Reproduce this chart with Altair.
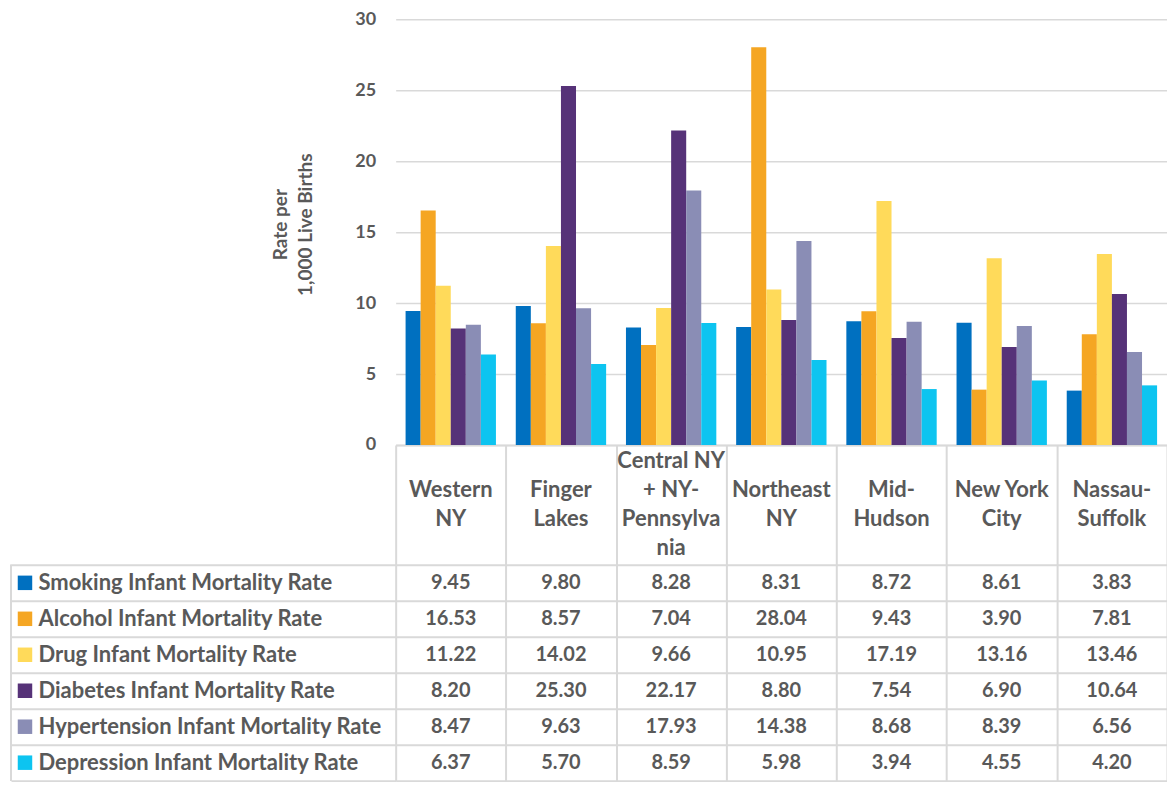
import altair as alt
import pandas as pd

regions = ["Western NY", "Finger Lakes", "Central NY + NY-Pennsylvania", "Northeast NY",
           "Mid-Hudson", "New York City", "Nassau-Suffolk"]
region_labels = ["Western\nNY", "Finger\nLakes", "Central NY\n+ NY-\nPennsylva\nnia", "Northeast\nNY",
                 "Mid-\nHudson", "New York\nCity", "Nassau-\nSuffolk"]
series = ["Smoking Infant Mortality Rate", "Alcohol Infant Mortality Rate", "Drug Infant Mortality Rate",
          "Diabetes Infant Mortality Rate", "Hypertension Infant Mortality Rate", "Depression Infant Mortality Rate"]
colors = ["#0070C0", "#F5A623", "#FFDA5A", "#563278", "#8A8DB5", "#0DC4F0"]

smoking = [9.45, 9.80, 8.28, 8.31, 8.72, 8.61, 3.83]
alcohol = [16.53, 8.57, 7.04, 28.04, 9.43, 3.90, 7.81]
drug = [11.22, 14.02, 9.66, 10.95, 17.19, 13.16, 13.46]
diabetes = [8.20, 25.30, 22.17, 8.80, 7.54, 6.90, 10.64]
hypertension = [8.47, 9.63, 17.93, 14.38, 8.68, 8.39, 6.56]
depression = [6.37, 5.70, 8.59, 5.98, 3.94, 4.55, 4.20]
y_ticks = [0, 5, 10, 15, 20, 25, 30]

values = [smoking, alcohol, drug, diabetes, hypertension, depression]
rows = []
for s, vals in zip(series, values):
    for r, v in zip(regions, vals):
        rows.append({"region": r, "series": s, "value": v})
df = pd.DataFrame(rows)
hdr_df = pd.DataFrame({"region": regions, "label": region_labels})
sq_df = pd.DataFrame({"series": series})

FONT = "Lato"
TXT = "#595959"
GRID = "#D9D9D9"
W = 772
H_BAR = 426
H_HDR = 120
LINE_H = 29
ROW = 36
H_BODY = ROW * len(series)
LEFT = 385

color_scale = alt.Scale(domain=series, range=colors)

bars = alt.Chart(df).mark_bar().encode(
    x=alt.X("region:N", sort=None,
            scale=alt.Scale(domain=regions, paddingInner=0.18, paddingOuter=0.09),
            axis=alt.Axis(title=None, labels=False, ticks=False, domain=True,
                          domainColor=GRID, domainWidth=2, grid=False)),
    xOffset=alt.XOffset("series:N", sort=None, scale=alt.Scale(domain=series)),
    y=alt.Y("value:Q", scale=alt.Scale(domain=[0, 30], nice=False),
            axis=alt.Axis(values=y_ticks, title=["Rate per", "1,000 Live Births"],
                          domain=False, ticks=False, labelPadding=20,
                          labelFont=FONT, labelFontSize=18, labelFontWeight="bold", labelColor=TXT,
                          titleFont=FONT, titleFontSize=19, titleFontWeight="bold", titleColor=TXT,
                          titlePadding=39, titleLineHeight=25, titleY=H_BAR / 2 - 8,
                          grid=True, gridColor=GRID, gridWidth=1.5)),
    color=alt.Color("series:N", scale=color_scale, legend=None),
).properties(width=W, height=H_BAR)

half_lines = H_HDR / 2 / LINE_H
header = alt.Chart(hdr_df).transform_calculate(
    pos="(length(split(datum.label, '\\n')) - 1) / 2"
).mark_text(
    font=FONT, fontSize=22, fontWeight="bold", color=TXT, lineBreak="\n",
    lineHeight=LINE_H, baseline="middle", align="center"
).encode(
    x=alt.X("region:N", sort=None, scale=alt.Scale(domain=regions),
            axis=alt.Axis(title=None, labels=False, ticks=False, domain=False, grid=True,
                          tickBand="extent", gridColor=GRID, gridWidth=2)),
    y=alt.Y("pos:Q", scale=alt.Scale(domain=[-half_lines, half_lines], nice=False, zero=False), axis=None),
    text="label:N",
).properties(width=W, height=H_HDR)

cells = alt.Chart(df).mark_text(
    font=FONT, fontSize=20, fontWeight="bold", color=TXT, baseline="middle", align="center"
).encode(
    x=alt.X("region:N", sort=None, scale=alt.Scale(domain=regions),
            axis=alt.Axis(title=None, labels=False, ticks=False, domain=False, grid=True,
                          tickBand="extent", gridColor=GRID, gridWidth=2)),
    y=alt.Y("series:N", sort=None, scale=alt.Scale(domain=series),
            axis=alt.Axis(title=None, grid=True, tickBand="extent", gridColor=GRID, gridWidth=2,
                          ticks=True, tickSize=LEFT, tickColor=GRID, tickWidth=2, domain=False,
                          labelAlign="left", labelBaseline="middle", labelPadding=-27,
                          labelFont=FONT, labelFontSize=22, labelFontWeight="bold",
                          labelColor=TXT, labelLimit=420)),
    text=alt.Text("value:Q", format=".2f"),
)

squares = alt.Chart(sq_df).mark_square(size=210, opacity=1, filled=True).encode(
    x=alt.value(-371),
    y=alt.Y("series:N", sort=None, scale=alt.Scale(domain=series)),
    color=alt.Color("series:N", scale=color_scale, legend=None),
)

left_border = alt.Chart(sq_df).mark_rule(color=GRID, strokeWidth=2).encode(
    x=alt.value(-LEFT), y=alt.value(0), y2=alt.value(H_BODY),
)

body = alt.layer(cells, squares, left_border).properties(width=W, height=H_BODY)

chart = alt.vconcat(bars, header, body, spacing=0, bounds="flush").properties(
    padding={"left": 2, "top": 2, "right": 0, "bottom": 0}
).configure_view(stroke=None)

chart.save("out.html", embed_options={"renderer": "svg", "actions": False})
